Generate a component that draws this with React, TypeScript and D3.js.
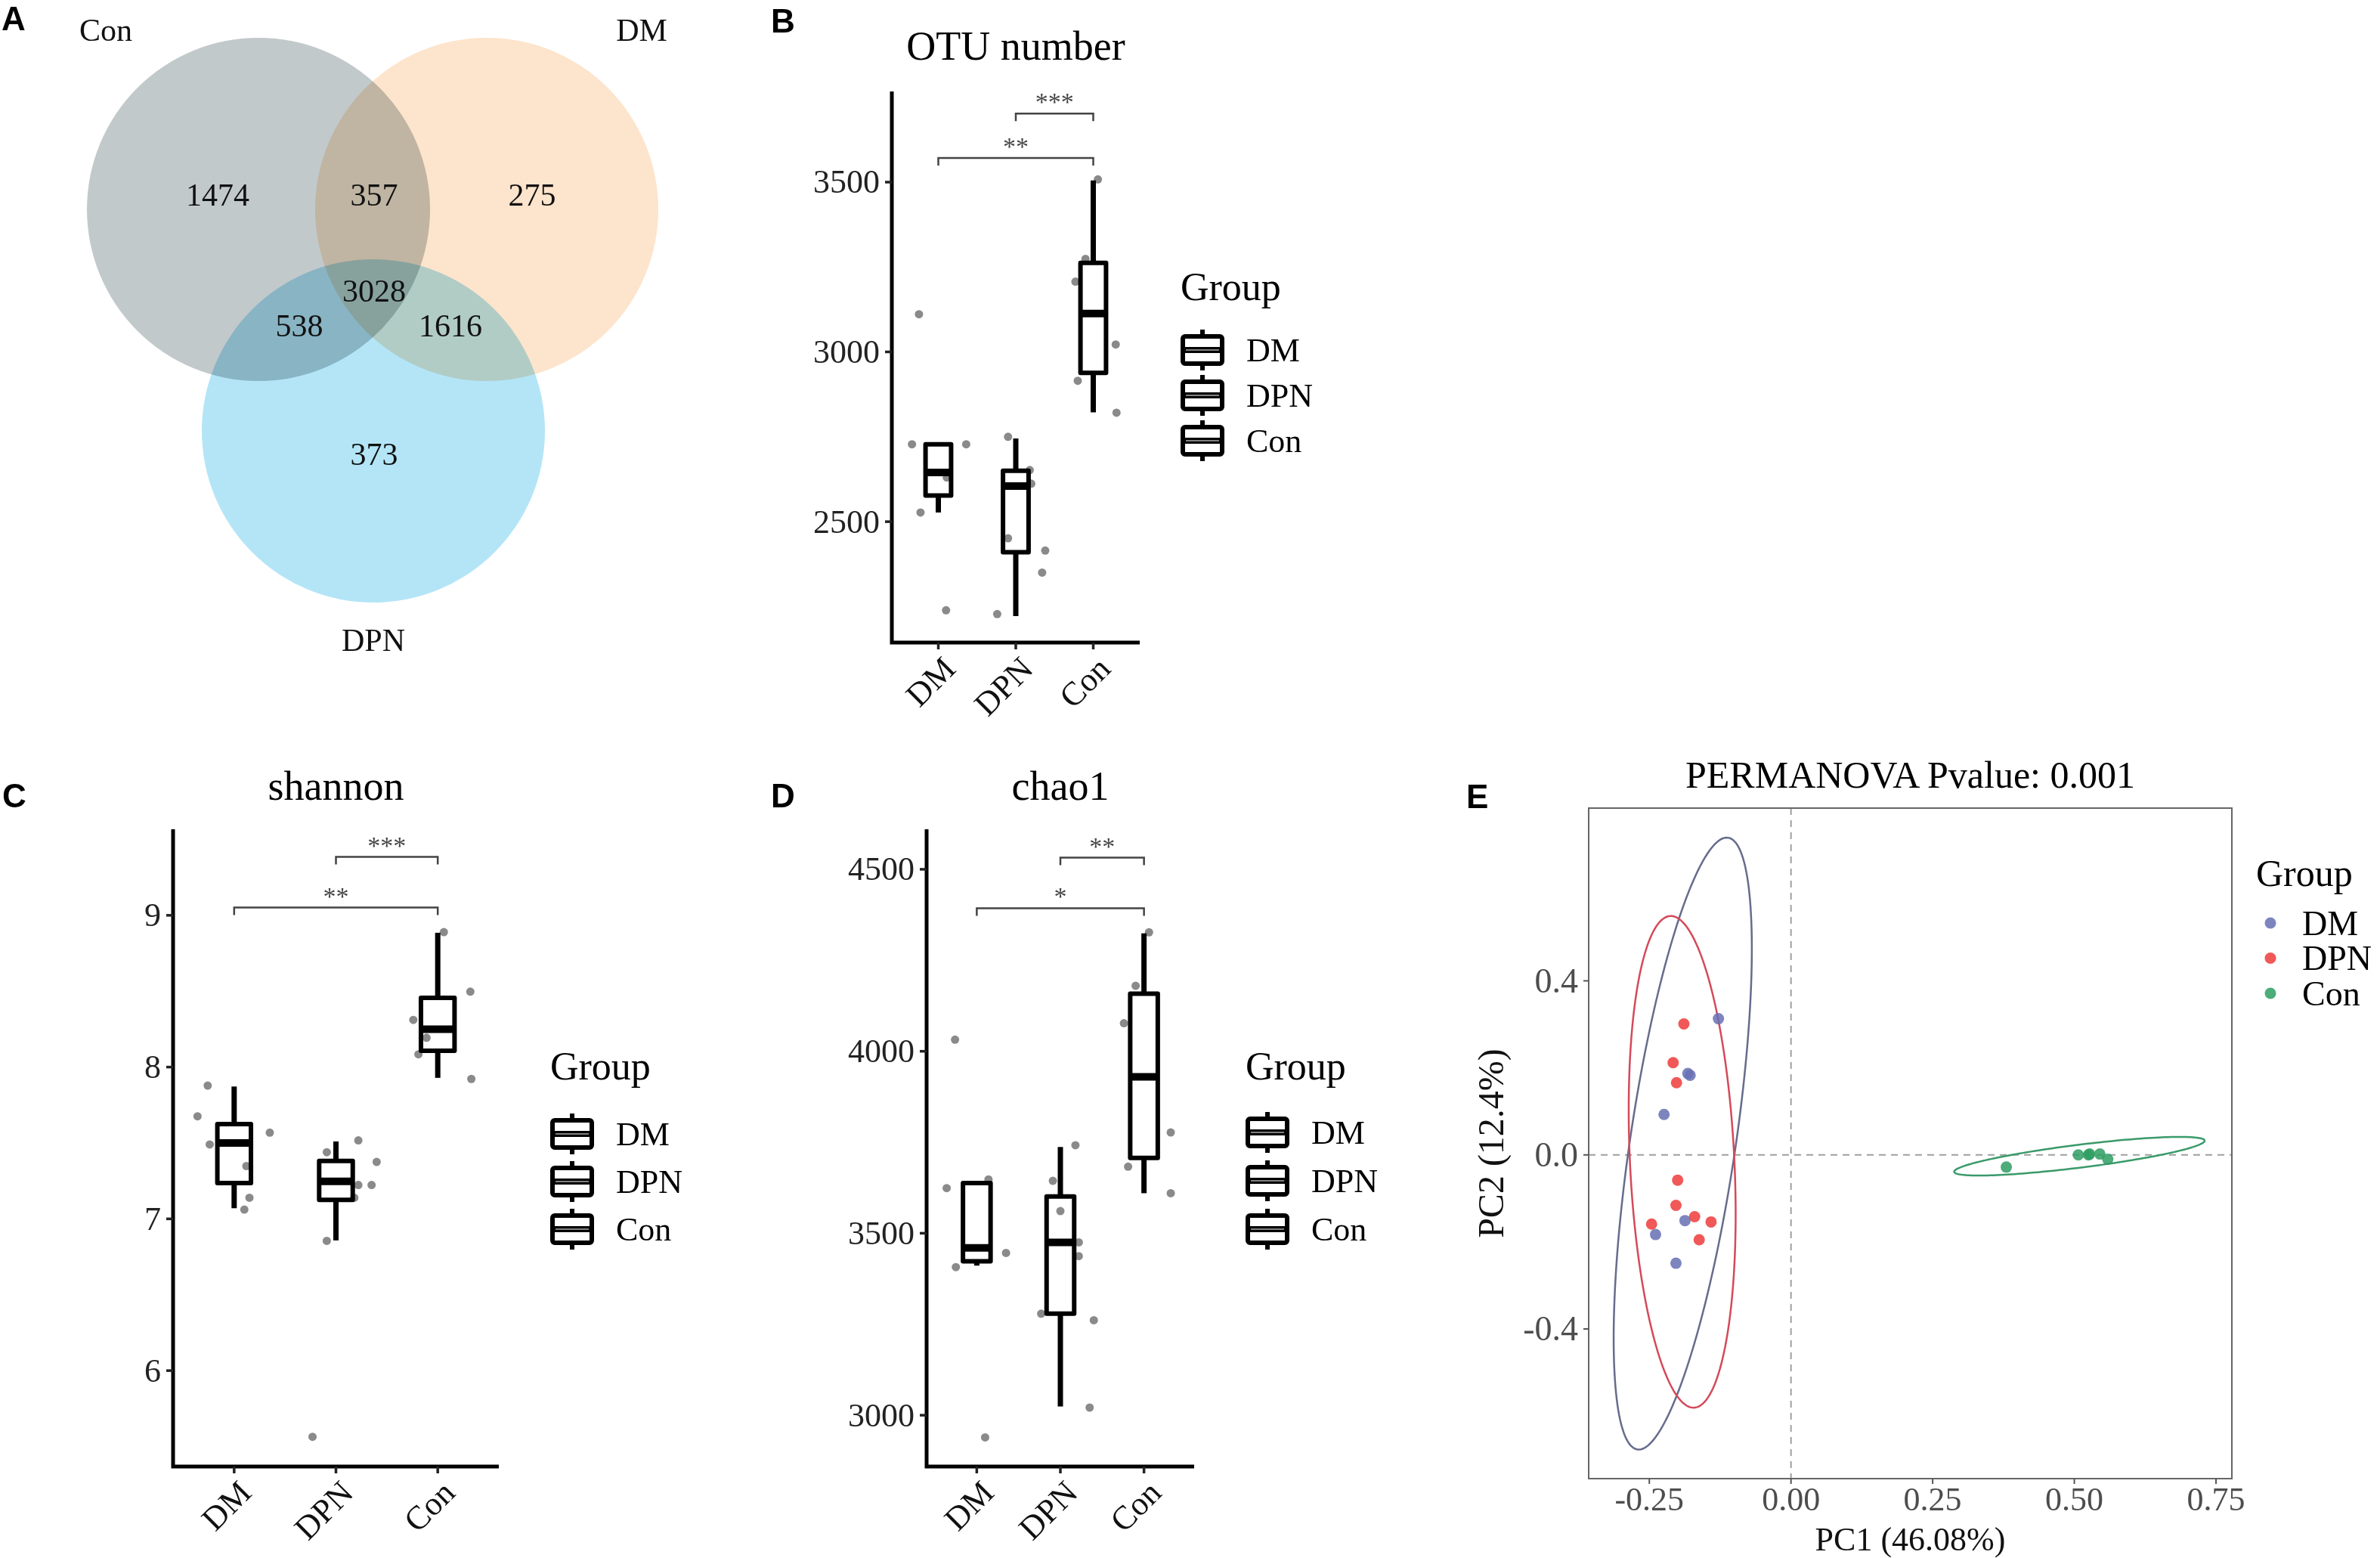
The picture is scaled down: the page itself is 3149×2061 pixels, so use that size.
import React from 'react';
import * as d3 from 'd3';

const W = 3149;
const H = 2061;
const SERIF = '"Liberation Serif", "Times New Roman", serif';
const SANS = '"Liberation Sans", Arial, sans-serif';

const groups = ['DM', 'DPN', 'Con'];

// ---- A: Venn ----
const vennSets = ['Con', 'DM', 'DPN'];
const vennColors = ['#c2c9cb', '#fde4cc', '#b3e5f7'];
const vennRegions = ['Con', 'Con&DM', 'DM', 'Con&DM&DPN', 'Con&DPN', 'DM&DPN', 'DPN'];
const vennCounts = [1474, 357, 275, 3028, 538, 1616, 373];

// ---- B: OTU number ([lower whisker, q1, median, q3, upper whisker]) ----
const otuBox = [
  [2527, 2577, 2645, 2728, 2728],
  [2222, 2410, 2605, 2650, 2745],
  [2822, 2938, 3113, 3262, 3505],
];
const otuPoints = [
  [2728, 2728, 3111, 2527, 2239, 2630],
  [2750, 2652, 2612, 2451, 2415, 2350, 2228],
  [3508, 3274, 3207, 3022, 2915, 2821],
];
const otuJitter = [
  [-0.34, 0.36, -0.25, -0.23, 0.1, 0.11],
  [-0.1, 0.18, 0.2, -0.1, 0.38, 0.34, -0.24],
  [0.06, -0.1, -0.23, 0.29, -0.2, 0.3],
];
const otuTicks = [2500, 3000, 3500];
const otuSig = [
  { from: 'DPN', to: 'Con', y: 3702, label: '***' },
  { from: 'DM', to: 'Con', y: 3571, label: '**' },
];

// ---- C: shannon ----
const shannonBox = [
  [7.07, 7.236, 7.5, 7.625, 7.872],
  [6.858, 7.125, 7.247, 7.382, 7.51],
  [7.929, 8.108, 8.25, 8.456, 8.885],
];
const shannonPoints = [
  [7.676, 7.878, 7.49, 7.568, 7.348, 7.139, 7.061],
  [7.439, 7.517, 7.375, 7.223, 7.223, 7.139, 6.855, 5.564],
  [8.889, 8.497, 8.311, 8.193, 8.084, 7.922],
];
const shannonJitter = [
  [-0.36, -0.26, -0.24, 0.35, 0.12, 0.15, 0.1],
  [-0.09, 0.22, 0.4, 0.22, 0.35, 0.18, -0.09, -0.23],
  [0.06, 0.32, -0.24, -0.11, -0.19, 0.33],
];
const shannonTicks = [6, 7, 8, 9];
const shannonSig = [
  { from: 'DPN', to: 'Con', y: 9.385, label: '***' },
  { from: 'DM', to: 'Con', y: 9.051, label: '**' },
];

// ---- D: chao1 ----
const chaoBox = [
  [3411, 3423, 3460, 3638, 3638],
  [3024, 3279, 3475, 3601, 3737],
  [3610, 3707, 3930, 4158, 4324],
];
const chaoPoints = [
  [3624, 4032, 3648, 3446, 3407, 2939],
  [3742, 3644, 3561, 3475, 3437, 3279, 3261, 3021],
  [4327, 4180, 4077, 3777, 3683, 3610],
];
const chaoJitter = [
  [-0.36, -0.26, 0.14, 0.35, -0.25, 0.1],
  [0.18, -0.09, 0, 0.22, 0.22, -0.23, 0.4, 0.35],
  [0.06, -0.1, -0.24, 0.32, -0.19, 0.32],
];
const chaoTicks = [3000, 3500, 4000, 4500];
const chaoSig = [
  { from: 'DPN', to: 'Con', y: 4532, label: '**' },
  { from: 'DM', to: 'Con', y: 4393, label: '*' },
];

// ---- E: PCoA ----
const pcoaColors = ['#6670b4', '#ee3b3b', '#2e9e62'];
const ellipseColors = ['#666c8c', '#d44a5a', '#3a9a6a'];
const pcoaDM = [[-0.128, 0.313], [-0.178, 0.183], [-0.182, 0.187], [-0.224, 0.093], [-0.187, -0.151], [-0.239, -0.183], [-0.203, -0.249]];
const pcoaDPN = [[-0.189, 0.301], [-0.208, 0.212], [-0.202, 0.166], [-0.2, -0.058], [-0.203, -0.116], [-0.17, -0.142], [-0.246, -0.159], [-0.141, -0.154], [-0.162, -0.195]];
const pcoaCon = [[0.38, -0.028], [0.507, 0.0], [0.527, 0.002], [0.545, 0.002], [0.559, -0.01], [0.525, 0.0]];
// ellipse: centre, major semi-axis vector, minor semi-axis vector (data units)
const ellipseCentre = [[-0.191, 0.026], [-0.192, -0.016], [0.509, -0.003]];
const ellipseMajor = [[0.08, 0.703], [-0.021, 0.565], [0.221, 0.036]];
const ellipseMinor = [[0.092, -0.018], [0.092, 0.006], [-0.003, 0.026]];
const pcXTicks = [-0.25, 0, 0.25, 0.5, 0.75];
const pcXLabels = ['-0.25', '0.00', '0.25', '0.50', '0.75'];
const pcYTicks = [-0.4, 0, 0.4];
const pcYLabels = ['-0.4', '0.0', '0.4'];

function PanelLetter({ x, y, t }: { x: number; y: number; t: string }) {
  return (
    <text x={x} y={y} fontFamily={SANS} fontWeight="bold" fontSize={44} fill="#000">
      {t}
    </text>
  );
}

function Venn() {
  const centres = [[342, 277], [644, 277], [494, 570]];
  const r = 227;
  const labelPos = [[288, 258], [495, 258], [704, 258], [495, 385], [396, 431], [596, 431], [495, 601]];
  const setLabelPos = [[140, 40], [849, 40], [494, 847]];
  return (
    <g>
      {vennSets.map((s, i) => (
        <circle key={s} cx={centres[i][0]} cy={centres[i][1]} r={r} fill={vennColors[i]} style={{ mixBlendMode: 'multiply' }} />
      ))}
      {vennRegions.map((reg, i) => (
        <text key={reg} x={labelPos[i][0]} y={labelPos[i][1]} fontFamily={SERIF} fontSize={42} fill="#111" textAnchor="middle" dominantBaseline="central">
          {vennCounts[i]}
        </text>
      ))}
      {vennSets.map((s, i) => (
        <text key={s} x={setLabelPos[i][0]} y={setLabelPos[i][1]} fontFamily={SERIF} fontSize={42} fill="#111" textAnchor="middle" dominantBaseline="central">
          {s}
        </text>
      ))}
    </g>
  );
}

type BoxCfg = {
  left: number; right: number; top: number; bottom: number;
  domain: [number, number]; ticks: number[]; title: string; titleY: number;
  legendX: number; legendTitleY: number; legendRow0: number; legendStep: number;
};

function BoxPanel({ cfg, boxes, points, jitter, sigs }: {
  cfg: BoxCfg; boxes: number[][]; points: number[][]; jitter: number[][];
  sigs: { from: string; to: string; y: number; label: string }[];
}) {
  const x = d3.scalePoint<string>().domain(groups).range([cfg.left, cfg.right]).padding(0.6);
  const y = d3.scaleLinear().domain(cfg.domain).range([cfg.bottom, cfg.top]);
  const step = x.step();
  const bw = step * 0.33;
  const cx = (cfg.left + cfg.right) / 2;
  return (
    <g>
      <text x={cx} y={cfg.titleY} fontFamily={SERIF} fontSize={54} textAnchor="middle" fill="#000">{cfg.title}</text>
      {/* jittered samples */}
      {groups.map((g, gi) => points[gi].map((v, j) => (
        <circle key={g + j} cx={(x(g) as number) + jitter[gi][j] * step} cy={y(v)} r={5.5} fill="#8a8a8a" />
      )))}
      {/* boxes */}
      {groups.map((g, gi) => {
        const [lo, q1, med, q3, hi] = boxes[gi];
        const gx = x(g) as number;
        return (
          <g key={g} stroke="#000" fill="none">
            <line x1={gx} x2={gx} y1={y(q3)} y2={y(hi)} strokeWidth={7} />
            <line x1={gx} x2={gx} y1={y(q1)} y2={y(lo)} strokeWidth={7} />
            <rect x={gx - bw / 2} y={y(q3)} width={bw} height={y(q1) - y(q3)} strokeWidth={6} strokeLinejoin="round" />
            <line x1={gx - bw / 2} x2={gx + bw / 2} y1={y(med)} y2={y(med)} strokeWidth={10} />
          </g>
        );
      })}
      {/* significance brackets */}
      {sigs.map((s) => {
        const x1 = x(s.from) as number;
        const x2 = x(s.to) as number;
        const yy = y(s.y);
        return (
          <g key={s.from + s.to}>
            <path d={`M${x1},${yy + 10}V${yy}H${x2}V${yy + 10}`} fill="none" stroke="#444" strokeWidth={2.5} />
            <text x={(x1 + x2) / 2} y={yy - 4} fontFamily={SERIF} fontSize={34} fill="#444" textAnchor="middle">{s.label}</text>
          </g>
        );
      })}
      {/* axes */}
      <path d={`M${cfg.left},${cfg.top}V${cfg.bottom}H${cfg.right}`} fill="none" stroke="#000" strokeWidth={5} />
      {cfg.ticks.map((t) => (
        <g key={t}>
          <line x1={cfg.left - 9} x2={cfg.left} y1={y(t)} y2={y(t)} stroke="#222" strokeWidth={3.5} />
          <text x={cfg.left - 16} y={y(t)} fontFamily={SERIF} fontSize={44} fill="#222" textAnchor="end" dominantBaseline="central">{t}</text>
        </g>
      ))}
      {groups.map((g) => (
        <g key={g}>
          <line x1={x(g)} x2={x(g)} y1={cfg.bottom} y2={cfg.bottom + 9} stroke="#222" strokeWidth={3.5} />
          <text transform={`translate(${(x(g) as number) + 4},${cfg.bottom + 16}) rotate(-45)`} dy="0.68em" fontFamily={SERIF} fontSize={44} fill="#111" textAnchor="end">{g}</text>
        </g>
      ))}
      {/* legend */}
      <text x={cfg.legendX - 3} y={cfg.legendTitleY} fontFamily={SERIF} fontSize={52} fill="#000">Group</text>
      {groups.map((g, i) => {
        const ry = cfg.legendRow0 + i * cfg.legendStep;
        const kx = cfg.legendX;
        return (
          <g key={g}>
            <line x1={kx + 26} x2={kx + 26} y1={ry - 27} y2={ry + 27} stroke="#000" strokeWidth={6} />
            <rect x={kx} y={ry - 18} width={52} height={36} fill="#fff" stroke="#000" strokeWidth={6} rx={3} />
            <line x1={kx} x2={kx + 52} y1={ry} y2={ry} stroke="#000" strokeWidth={8} />
            <line x1={kx + 4} x2={kx + 48} y1={ry} y2={ry} stroke="#fff" strokeWidth={1.2} />
            <text x={kx + 84} y={ry} fontFamily={SERIF} fontSize={44} fill="#000" dominantBaseline="central">{g}</text>
          </g>
        );
      })}
    </g>
  );
}

function Pcoa() {
  const left = 2102, right = 2953, top = 1069, bottom = 1956;
  const x = d3.scaleLinear().domain([-0.357, 0.778]).range([left, right]);
  const y = d3.scaleLinear().domain([-0.744, 0.797]).range([bottom, top]);
  const sets = [pcoaDM, pcoaDPN, pcoaCon];
  const ts = d3.range(0, 2 * Math.PI + 0.001, Math.PI / 90);
  const ellipsePaths = groups.map((_, i) => {
    const c = ellipseCentre[i], a = ellipseMajor[i], b = ellipseMinor[i];
    const line = d3.line<number>()
      .x((t) => x(c[0] + a[0] * Math.cos(t) + b[0] * Math.sin(t)))
      .y((t) => y(c[1] + a[1] * Math.cos(t) + b[1] * Math.sin(t)));
    return line(ts) as string;
  });
  return (
    <g>
      <text x={(left + right) / 2} y={1042} fontFamily={SERIF} fontSize={50} textAnchor="middle" fill="#000">PERMANOVA Pvalue: 0.001</text>
      <line x1={x(0)} x2={x(0)} y1={top} y2={bottom} stroke="#a0a0a0" strokeWidth={2} strokeDasharray="9,7" />
      <line x1={left} x2={right} y1={y(0)} y2={y(0)} stroke="#a0a0a0" strokeWidth={2} strokeDasharray="9,7" />
      {ellipsePaths.map((d, i) => (
        <path key={i} d={d} fill="none" stroke={ellipseColors[i]} strokeWidth={2.5} />
      ))}
      {sets.map((pts, i) => pts.map((p, j) => (
        <circle key={i + '-' + j} cx={x(p[0])} cy={y(p[1])} r={7.5} fill={pcoaColors[i]} fillOpacity={0.85} />
      )))}
      <rect x={left} y={top} width={right - left} height={bottom - top} fill="none" stroke="#666" strokeWidth={2} />
      {pcXTicks.map((t, i) => (
        <g key={t}>
          <line x1={x(t)} x2={x(t)} y1={bottom} y2={bottom + 7} stroke="#555" strokeWidth={2} />
          <text x={x(t)} y={bottom + 27} fontFamily={SERIF} fontSize={44} fill="#4d4d4d" textAnchor="middle" dominantBaseline="central">{pcXLabels[i]}</text>
        </g>
      ))}
      {pcYTicks.map((t, i) => (
        <g key={t}>
          <line x1={left - 7} x2={left} y1={y(t)} y2={y(t)} stroke="#555" strokeWidth={2} />
          <text x={left - 14} y={y(t)} fontFamily={SERIF} fontSize={46} fill="#4d4d4d" textAnchor="end" dominantBaseline="central">{pcYLabels[i]}</text>
        </g>
      ))}
      <text x={(left + right) / 2} y={2036} fontFamily={SERIF} fontSize={44} fill="#111" textAnchor="middle" dominantBaseline="central">PC1 (46.08%)</text>
      <text transform={`translate(1972,${(top + bottom) / 2}) rotate(-90)`} fontFamily={SERIF} fontSize={48} fill="#111" textAnchor="middle" dominantBaseline="central">PC2 (12.4%)</text>
      <text x={2985} y={1172} fontFamily={SERIF} fontSize={50} fill="#000">Group</text>
      {groups.map((g, i) => (
        <g key={g}>
          <circle cx={3004} cy={1221 + i * 46.5} r={7.5} fill={pcoaColors[i]} fillOpacity={0.85} />
          <text x={3046} y={1221 + i * 46.5} fontFamily={SERIF} fontSize={46} fill="#000" dominantBaseline="central">{g}</text>
        </g>
      ))}
    </g>
  );
}

const cfgB: BoxCfg = {
  left: 1180, right: 1508, top: 121, bottom: 850, domain: [2144, 3767], ticks: otuTicks,
  title: 'OTU number', titleY: 79, legendX: 1565, legendTitleY: 397, legendRow0: 463, legendStep: 60,
};
const cfgC: BoxCfg = {
  left: 229, right: 660, top: 1097, bottom: 1940, domain: [5.368, 9.567], ticks: shannonTicks,
  title: 'shannon', titleY: 1058, legendX: 731, legendTitleY: 1428, legendRow0: 1500, legendStep: 63,
};
const cfgD: BoxCfg = {
  left: 1226, right: 1580, top: 1097, bottom: 1940, domain: [2859, 4610], ticks: chaoTicks,
  title: 'chao1', titleY: 1058, legendX: 1651, legendTitleY: 1428, legendRow0: 1498, legendStep: 64,
};

export default function App() {
  return (
    <svg width={W} height={H} viewBox={`0 0 ${W} ${H}`} style={{ position: 'absolute', left: 0, top: 0, display: 'block' }}>
      <rect width={W} height={H} fill="#fff" />
      <Venn />
      <PanelLetter x={2} y={40} t="A" />
      <PanelLetter x={1020} y={43} t="B" />
      <PanelLetter x={3} y={1068} t="C" />
      <PanelLetter x={1020} y={1068} t="D" />
      <PanelLetter x={1940} y={1069} t="E" />
      <BoxPanel cfg={cfgB} boxes={otuBox} points={otuPoints} jitter={otuJitter} sigs={otuSig} />
      <BoxPanel cfg={cfgC} boxes={shannonBox} points={shannonPoints} jitter={shannonJitter} sigs={shannonSig} />
      <BoxPanel cfg={cfgD} boxes={chaoBox} points={chaoPoints} jitter={chaoJitter} sigs={chaoSig} />
      <Pcoa />
    </svg>
  );
}
